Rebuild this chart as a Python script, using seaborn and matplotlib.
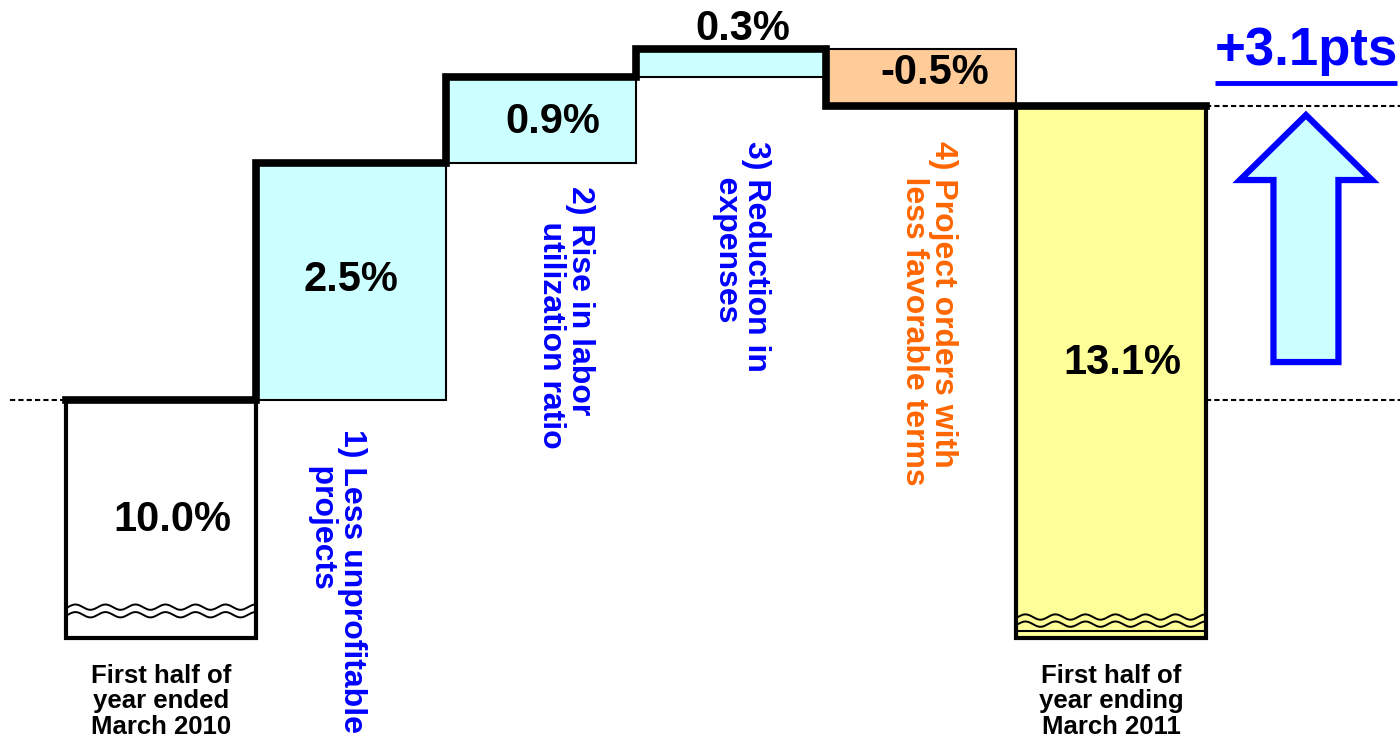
import numpy as np
import pandas as pd
import matplotlib
matplotlib.use("Agg")
import matplotlib.pyplot as plt
import matplotlib.patches as mpatches
import seaborn as sns

# operating margin bridge (%)
steps = ["start", "step1", "step2", "step3", "step4", "end"]
start_value = 10.0
changes = [2.5, 0.9, 0.3, -0.5]
end_value = 13.1
total_change = 3.1

value_labels = ["10.0%", "2.5%", "0.9%", "0.3%", "-0.5%", "13.1%"]
period_labels = ["First half of\nyear ended\nMarch 2010",
                 "First half of\nyear ending\nMarch 2011"]
driver_labels = [
    "1) Less unprofitable\n    projects",
    "2) Rise in labor\n    utilization ratio",
    "3) Reduction in\n    expenses",
    "4) Project orders with\n    less favorable terms",
]
bar_colors = ["#FFFFFF", "#CCFFFF", "#CCFFFF", "#CCFFFF", "#FFCC99", "#FFFF99"]
driver_colors = ["#0000FF", "#0000FF", "#0000FF", "#FF6600"]

BASE = 7.5  # bars are cut (wavy break), so they do not start at zero

sns.set_theme(style="white")
plt.rcParams["font.family"] = ["Liberation Sans", "DejaVu Sans"]
plt.rcParams["font.weight"] = "bold"

#levels of the waterfall; the last step lands on the reported result (rounded figures)
levels = [start_value] + list(start_value + np.cumsum(changes))
levels[-1] = end_value
bottoms = [BASE] + [min(a, b) for a, b in zip(levels[:-1], levels[1:])] + [BASE]
tops = [start_value] + [max(a, b) for a, b in zip(levels[:-1], levels[1:])] + [end_value]
df = pd.DataFrame({"step": steps, "bottom": bottoms,
                   "height": np.array(tops) - np.array(bottoms)})

fig = plt.figure(figsize=(14, 7.41), dpi=100)
ax = fig.add_axes([0, 0, 1, 1])

sns.barplot(data=df, x="step", y="height", bottom=df["bottom"].values, width=1.0,
            color="white", edgecolor="black", linewidth=1.5, errorbar=None, ax=ax)
for i, patch in enumerate(ax.patches):
    patch.set_facecolor(bar_colors[i])
    patch.set_alpha(1)
    if i in (0, len(steps) - 1):
        patch.set_linewidth(3)

#thick connector line along the top of the bridge
step_x = np.arange(len(steps) + 1) - 0.5
step_y = levels + [end_value, end_value]
ax.step(step_x, step_y, where="post", color="black", lw=5.5,
        solid_joinstyle="miter", solid_capstyle="projecting", zorder=4)

#dashed reference lines
x_right = 6.521
ax.plot([-0.795, -0.5], [start_value, start_value], color="black", lw=1.5, dashes=(2.5, 1.5))
ax.plot([5.5, x_right], [start_value, start_value], color="black", lw=1.5, dashes=(2.5, 1.5))
ax.plot([5.5, x_right], [end_value, end_value], color="black", lw=1.5, dashes=(2.5, 1.5))


#wavy "axis break" marks
def draw_break(x0, x1, y, gap=0.08):
    xs = np.linspace(x0, x1, 300)
    wave = 0.028 * np.sin(2 * np.pi * (xs - x0) / 0.158)
    ax.plot(xs, y + wave, color="black", lw=1.4, zorder=3)
    ax.plot(xs, y - gap + wave, color="black", lw=1.4, zorder=3)


draw_break(-0.49, 0.49, 7.82)
draw_break(4.51, 5.49, 7.716, gap=0.075)
ax.plot([4.5, 5.5], [7.568, 7.568], color="black", lw=1.5, zorder=3)

#value labels
label_pos = [(0.06, 8.74), (1.0, 11.26), (2.06, 12.93), (3.06, 13.91), (4.07, 13.44), (5.06, 10.39)]
for (x, y), txt in zip(label_pos, value_labels):
    ax.text(x, y, txt, ha="center", va="center", fontsize=30, fontweight="bold",
            color="black", zorder=5)

#driver labels (rotated)
driver_pos = [(1.084, 9.70), (2.284, 12.25), (3.211, 12.73), (4.195, 12.73)]
for (x, y), txt, c in zip(driver_pos, driver_labels, driver_colors):
    ax.text(x, y, txt, rotation=-90, rotation_mode="anchor", ha="left", va="top",
            fontsize=23, fontweight="bold", color=c, linespacing=0.95, zorder=5)

#period labels under the two totals
for x, txt in zip([0, 5], period_labels):
    ax.text(x, 6.83, txt, ha="center", va="center", fontsize=18.5, fontweight="bold",
            color="black", linespacing=1.08)

#improvement arrow and total
arrow = mpatches.FancyArrow(6.026, 10.4, 0, 2.6, width=0.342, head_width=0.695,
                            head_length=0.684, length_includes_head=True,
                            fc="#CCFFFF", ec="#0000FF", lw=4.5, joinstyle="miter", zorder=5)
ax.add_patch(arrow)
ax.text(6.026, 13.53, f"+{total_change}pts", ha="center", va="baseline", fontsize=38,
        fontweight="bold", color="#0000FF")
ax.plot([5.547, 6.505], [13.337, 13.337], color="#0000FF", lw=3.5, solid_capstyle="butt")

ax.set_xlim(-0.8474, x_right)
ax.set_ylim(6.411, 14.211)
ax.axis("off")

fig.savefig("out.png", dpi=100, facecolor="white")
